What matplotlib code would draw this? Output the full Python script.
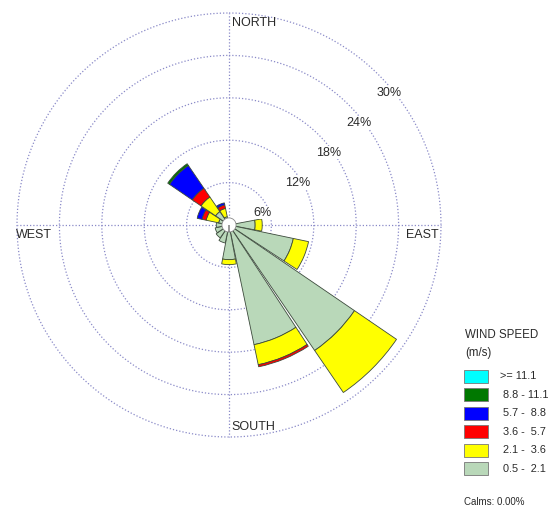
import numpy as np
import matplotlib
matplotlib.use("Agg")
import matplotlib.pyplot as plt
from matplotlib.patches import Rectangle

plt.rcParams['font.family'] = ['Liberation Sans', 'DejaVu Sans']

# ---------------- data ----------------
directions = ['N', 'NNE', 'NE', 'ENE', 'E', 'ESE', 'SE', 'SSE',
              'S', 'SSW', 'SW', 'WSW', 'W', 'WNW', 'NW', 'NNW']
# frequency (%) per speed class, per direction
spd_05_21 = [0.6, 0.4, 0.4, 0.6, 3.7, 9.3, 21.5, 17.3, 4.9, 2.6, 2.2, 2.0, 1.8, 1.5, 2.3, 1.2]
spd_21_36 = [0.0, 0.0, 0.0, 0.0, 1.0, 2.2, 7.2, 2.9, 0.7, 0.0, 0.0, 0.0, 0.0, 1.8, 2.5, 1.2]
spd_36_57 = [0.0, 0.0, 0.0, 0.0, 0.0, 0.0, 0.0, 0.3, 0.0, 0.0, 0.0, 0.0, 0.0, 0.6, 1.5, 0.5]
spd_57_88 = [0.0, 0.0, 0.0, 0.0, 0.0, 0.0, 0.0, 0.0, 0.0, 0.0, 0.0, 0.0, 0.0, 0.7, 3.9, 0.3]
spd_88_111 = [0.0, 0.0, 0.0, 0.0, 0.0, 0.0, 0.0, 0.0, 0.0, 0.0, 0.0, 0.0, 0.0, 0.0, 0.3, 0.0]
spd_111 = [0.0] * 16

speed_labels = [">= 11.1", "8.8 - 11.1", "5.7 -  8.8", "3.6 -  5.7", "2.1 -  3.6", "0.5 -  2.1"]
ring_values = [6, 12, 18, 24, 30]
compass_labels = ['NORTH', 'EAST', 'SOUTH', 'WEST']
calms_text = "Calms: 0.00%"

# ---------------- styling ----------------
colors = ['#b9d8b9', '#ffff00', '#ff0000', '#0000ff', '#007800', '#00ffff']
edge = '#3c4a3c'
grid_col = '#8a8ac8'
txt_col = '#2a2a2a'

W, H = 556, 511
fig = plt.figure(figsize=(W / 100, H / 100), dpi=100)

cx, cy, R = 229, 225, 212  # pixel centre and outer radius


def fx(x):
    return x / W


def fy(y):
    return 1 - y / H


ax = fig.add_axes([fx(cx - R), fy(cy + R), 2 * R / W, 2 * R / H], projection='polar')
ax.set_theta_zero_location('N')
ax.set_theta_direction(-1)
ax.set_ylim(0, 30)
ax.grid(False)
ax.set_xticks([])
ax.set_yticks([])
ax.spines['polar'].set_visible(False)
ax.patch.set_alpha(0)

# grid circles and axes
tt = np.linspace(0, 2 * np.pi, 400)
for rv in ring_values:
    ax.plot(tt, np.full_like(tt, rv), linestyle=(0, (1, 1.6)), color=grid_col,
            lw=0.9, clip_on=False, zorder=1)
for ang in [0, 90, 180, 270]:
    ax.plot([np.deg2rad(ang)] * 2, [0, 30], linestyle=(0, (1, 1.6)), color=grid_col,
            lw=0.9, clip_on=False, zorder=1)

# stacked bars
theta = np.deg2rad(np.arange(16) * 22.5)
width = np.deg2rad(22.5) * 0.95
series = [spd_05_21, spd_21_36, spd_36_57, spd_57_88, spd_88_111, spd_111]
bottom = np.zeros(16)
for vals, col in zip(series, colors):
    v = np.array(vals)
    mask = v > 0
    ax.bar(theta[mask], v[mask], width=width, bottom=bottom[mask], color=col,
           edgecolor=edge, linewidth=0.6, zorder=3)
    bottom += v

# centre calm circle
ax.bar([0], [1.0], width=2 * np.pi, bottom=0, color='white', edgecolor='#888888',
       linewidth=0.6, zorder=4)

# compass labels
fig.text(fx(232), fy(22.5), 'NORTH', fontsize=9, color=txt_col, ha='left', va='center')
fig.text(fx(406), fy(235), 'EAST', fontsize=9, color=txt_col, ha='left', va='center')
fig.text(fx(231), fy(427), 'SOUTH', fontsize=9, color=txt_col, ha='left', va='center')
fig.text(fx(16), fy(235), 'WEST', fontsize=9, color=txt_col, ha='left', va='center')

# ring labels
ring_pos = [(262.5, 212.5), (297.5, 182.5), (328.5, 152.5), (359, 122.5), (389.5, 92.5)]
for rv, (px, py) in zip(ring_values, ring_pos):
    fig.text(fx(px), fy(py), f"{rv}%", fontsize=9, color=txt_col, ha='center', va='center',
             bbox=dict(facecolor='white', edgecolor='none', pad=0.5), zorder=5)

# legend
fig.text(fx(465), fy(335), 'WIND SPEED', fontsize=8.3, color=txt_col, ha='left', va='center')
fig.text(fx(465), fy(353), '(m/s)', fontsize=8.3, color=txt_col, ha='left', va='center')
leg_colors = colors[::-1]
for i, (lab, col) in enumerate(zip(speed_labels, leg_colors)):
    top = 369.5 + i * 18.5
    fig.patches.append(Rectangle((fx(464), fy(top + 13)), 24 / W, 13 / H,
                                 transform=fig.transFigure, facecolor=col,
                                 edgecolor='#777777', linewidth=0.6))
    fig.text(fx(500 if i == 0 else 503), fy(top + 6.5), lab, fontsize=7.8,
             color=txt_col, ha='left', va='center')
fig.text(fx(464), fy(502), calms_text, fontsize=7, color=txt_col, ha='left', va='center')

fig.savefig('out.png', dpi=100)
